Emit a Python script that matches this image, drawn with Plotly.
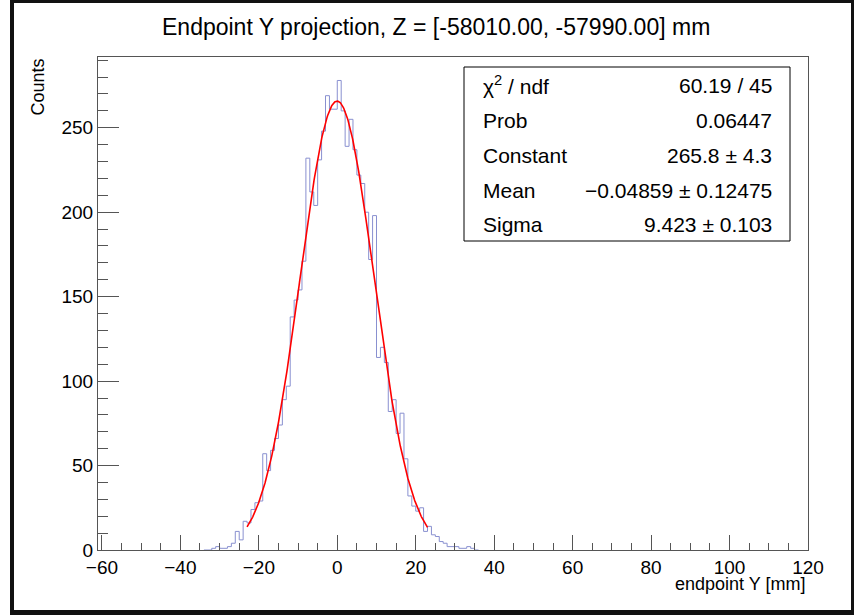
import math
import plotly.graph_objects as go

# ---------------- data ----------------
bin_low_edges = list(range(-34, 36))  # 1 mm bins, lower edges
counts = [0, 0, 1, 2, 1, 1, 2, 4, 11, 6,
          17, 16, 24, 28, 29, 57, 47, 59, 66, 74,
          89, 97, 138, 148, 154, 171, 232, 212, 204, 231,
          248, 269, 261, 261, 278, 260, 239, 255, 237, 222,
          217, 200, 172, 198, 114, 120, 111, 82, 89, 69,
          81, 54, 32, 26, 23, 25, 11, 14, 9, 8,
          5, 4, 2, 2, 2, 1, 1, 2, 1, 0]
bin_width = 1.0

fit_constant = 265.8
fit_mean = -0.04859
fit_sigma = 9.423
fit_range = [-23.0, 23.0]

stats_labels = ["χ<sup>2</sup> / ndf", "Prob", "Constant", "Mean", "Sigma"]
stats_values = ["60.19 / 45", "0.06447", "265.8 ± 4.3", "−0.04859 ± 0.12475", "9.423 ± 0.103"]

title_text = "Endpoint Y projection, Z = [-58010.00, -57990.00] mm"
x_title = "endpoint Y [mm]"
y_title = "Counts"
x_range = [-61, 120]

# ---------------- geometry ----------------
W, H = 854, 615
L, R, T, B = 98, 46, 57, 65
PW, PH = W - L - R, H - T - B


def px(xp):
    return (xp - L) / PW


def py(yp):
    return (T + PH - yp) / PH


FONT = "Liberation Sans, Arial, Helvetica, sans-serif"

# step outline of histogram
step_x, step_y = [], []
for lo, c in zip(bin_low_edges, counts):
    step_x += [lo, lo + bin_width]
    step_y += [c, c]

# fit curve evaluated from the fitted parameters shown in the stats box
n_pts = 400
fx = [fit_range[0] + (fit_range[1] - fit_range[0]) * i / (n_pts - 1) for i in range(n_pts)]
fy = [fit_constant * math.exp(-0.5 * ((v - fit_mean) / fit_sigma) ** 2) for v in fx]

fig = go.Figure()
fig.add_trace(go.Scatter(x=step_x, y=step_y, mode="lines",
                         line=dict(color="#8990d0", width=1), hoverinfo="skip"))
fig.add_trace(go.Scatter(x=fx, y=fy, mode="lines",
                         line=dict(color="#ff0000", width=1.6), hoverinfo="skip"))

ymax = 1.05 * max(counts)
axis_col = "#555555"
fig.update_layout(
    width=W, height=H,
    margin=dict(l=L, r=R, t=T, b=B),
    paper_bgcolor="white", plot_bgcolor="white",
    showlegend=False,
    font=dict(family=FONT, color="black"),
    xaxis=dict(range=x_range, showgrid=False, zeroline=False,
               showline=True, linecolor=axis_col, linewidth=1, mirror=True,
               ticks="inside", ticklen=15, tickcolor=axis_col, tickwidth=1,
               tick0=0, dtick=20, tickfont=dict(size=19, family=FONT, color="black"),
               minor=dict(dtick=5, ticks="inside", ticklen=7, tickcolor=axis_col, showgrid=False)),
    yaxis=dict(range=[0, ymax], showgrid=False, zeroline=False,
               showline=True, linecolor=axis_col, linewidth=1, mirror=True,
               ticks="inside", ticklen=21, tickcolor=axis_col, tickwidth=1,
               tick0=0, dtick=50, tickfont=dict(size=19, family=FONT, color="black"),
               minor=dict(dtick=10, ticks="inside", ticklen=10, tickcolor=axis_col, showgrid=False)),
)

shapes = []
# canvas black border
border = "#111111"
shapes.append(dict(type="rect", xref="paper", yref="paper", x0=px(10), x1=px(14), y0=py(615), y1=py(0),
                   fillcolor=border, line=dict(width=0), layer="above"))
shapes.append(dict(type="rect", xref="paper", yref="paper", x0=px(10), x1=px(854), y0=py(3), y1=py(0),
                   fillcolor=border, line=dict(width=0), layer="above"))
shapes.append(dict(type="rect", xref="paper", yref="paper", x0=px(851), x1=px(854), y0=py(615), y1=py(0),
                   fillcolor=border, line=dict(width=0), layer="above"))
shapes.append(dict(type="rect", xref="paper", yref="paper", x0=px(10), x1=px(854), y0=py(615), y1=py(610),
                   fillcolor=border, line=dict(width=0), layer="above"))
# stats box
shapes.append(dict(type="rect", xref="paper", yref="paper", x0=px(464), x1=px(790), y0=py(241), y1=py(67),
                   fillcolor="white", line=dict(color="black", width=1), layer="above"))
fig.update_layout(shapes=shapes)

ann = []
ann.append(dict(text=title_text, xref="paper", yref="paper", x=px(436), y=py(27),
                xanchor="center", yanchor="middle", showarrow=False,
                font=dict(size=23, family=FONT, color="black")))
ann.append(dict(text=x_title, xref="paper", yref="paper", x=px(807), y=py(584),
                xanchor="right", yanchor="middle", showarrow=False,
                font=dict(size=18, family=FONT, color="black")))
ann.append(dict(text=y_title, xref="paper", yref="paper", x=px(37), y=py(57),
                xanchor="center", yanchor="top", textangle=-90, showarrow=False,
                font=dict(size=18, family=FONT, color="black")))
row_y = [85, 120, 155, 190, 224]
for lab, val, yy in zip(stats_labels, stats_values, row_y):
    ann.append(dict(text=lab, xref="paper", yref="paper", x=px(481), y=py(yy),
                    xanchor="left", yanchor="middle", showarrow=False,
                    font=dict(size=21, family=FONT, color="black")))
    ann.append(dict(text=val, xref="paper", yref="paper", x=px(774), y=py(yy),
                    xanchor="right", yanchor="middle", showarrow=False,
                    font=dict(size=21, family=FONT, color="black")))
fig.update_layout(annotations=ann)

fig.write_html("out.html",
               config={"displayModeBar": False},
               post_script="document.body.style.margin='0';document.body.style.overflow='hidden';")
